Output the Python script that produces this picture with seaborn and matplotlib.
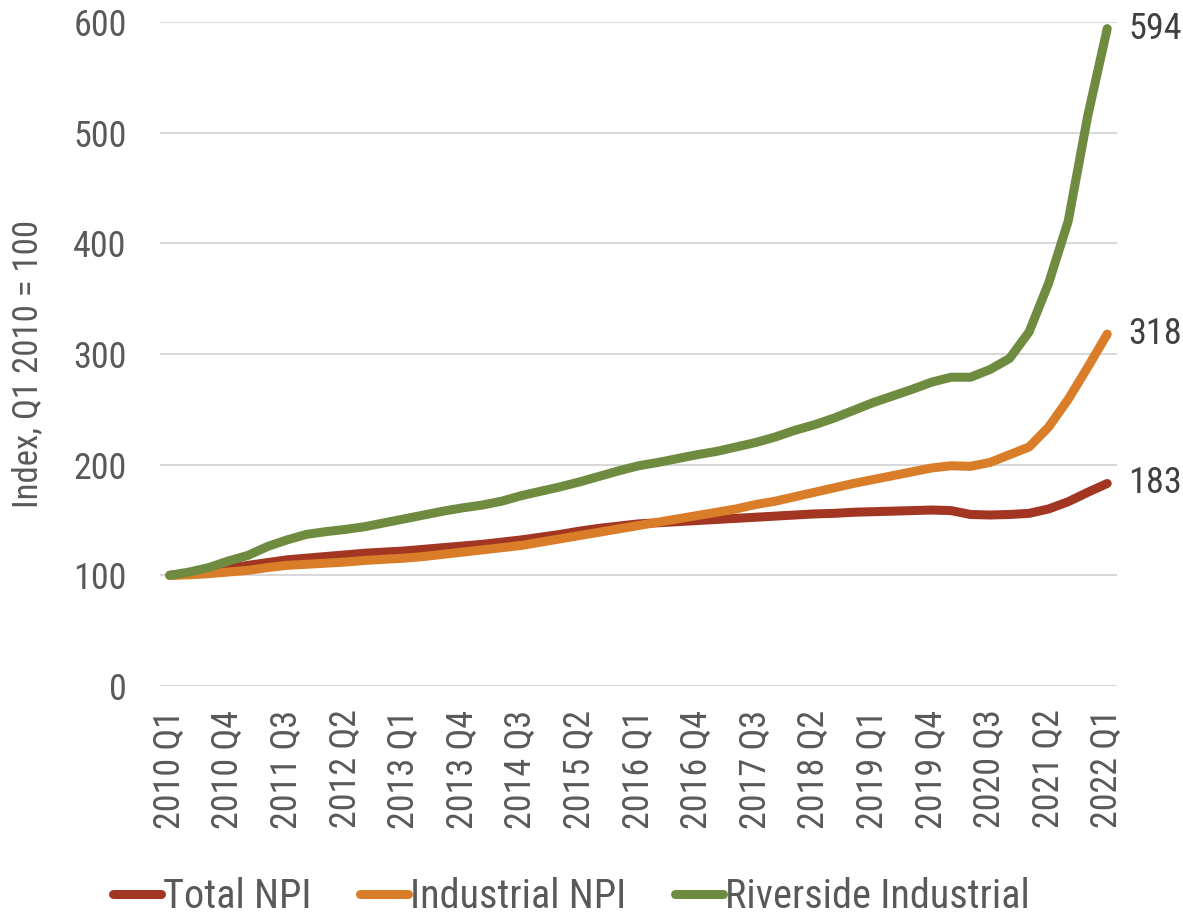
import numpy as np
import pandas as pd
import matplotlib
matplotlib.use("Agg")
import matplotlib.pyplot as plt
import seaborn as sns

# Quarterly index values, Q1 2010 = 100
years = list(range(2010, 2023))
quarters = [f"{y} Q{q}" for y in years for q in range(1, 5)][:49]

total_npi = [100, 101.5, 103.5, 106, 109, 111.5, 114, 115.5, 117, 118.5,
             120, 121, 122, 123.5, 125, 126.5, 128, 130, 132, 134.5,
             137, 140, 142.5, 144.5, 146.5, 147.5, 148.5, 149.5, 150.5, 151.5,
             152.5, 153.5, 154.5, 155.5, 156, 157, 157.5, 158, 158.5, 159,
             158.5, 155, 154.5, 155, 156, 160, 166.5, 175, 183]

industrial_npi = [100, 100.5, 101.5, 103, 104.5, 107, 109, 110, 111, 112,
                  113.5, 114.5, 115.5, 117, 119, 121, 123, 125, 127, 130,
                  133, 136, 139, 142, 145, 148, 151, 154, 157, 160,
                  164, 167, 171, 175, 179, 183, 186.5, 190, 193.5, 197,
                  199, 198.5, 202, 209, 216, 234, 259, 288, 318]

riverside_industrial = [100, 103, 107, 113, 118, 126, 132, 137, 139.5, 141.5,
                        144, 147.5, 151, 154.5, 158, 161, 163.5, 167, 172, 176,
                        180, 184.5, 189.5, 194.5, 199, 202, 205.5, 209, 212, 216,
                        220, 225, 231, 236, 242, 249, 256, 262, 268, 274.5,
                        279, 279, 286, 296, 320, 364, 420, 515, 594]

series_names = ["Total NPI", "Industrial NPI", "Riverside Industrial"]
series_values = [total_npi, industrial_npi, riverside_industrial]
series_colors = ["#A33623", "#D97D28", "#6F8B3F"]
end_labels = ["183", "318", "594"]

tick_step = 3
y_ticks = [0, 100, 200, 300, 400, 500, 600]

df = pd.concat(
    [pd.DataFrame({"pos": np.arange(len(quarters)), "quarter": quarters,
                   "value": vals, "series": name})
     for name, vals in zip(series_names, series_values)],
    ignore_index=True,
)

sns.set_theme(style="white")
plt.rcParams["font.family"] = ["Liberation Sans Narrow", "Arial Narrow",
                               "Roboto Condensed", "DejaVu Sans"]

text_grey = "#595959"
fig = plt.figure(figsize=(11.83, 9.19), dpi=100)
ax = fig.add_axes([160 / 1183, 1 - 686 / 919, 957 / 1183, 664 / 919])

sns.lineplot(data=df, x="pos", y="value", hue="series", hue_order=series_names,
             palette=series_colors, linewidth=6.5, ax=ax,
             solid_capstyle="round", solid_joinstyle="round")

ax.set_xlim(-0.5, len(quarters) - 0.5)
ax.set_ylim(0, 600)
ax.set_yticks(y_ticks)
ax.set_yticklabels([str(t) for t in y_ticks])
xt = list(range(0, len(quarters), tick_step))
ax.set_xticks(xt)
ax.set_xticklabels([quarters[i] for i in xt], rotation=90)

ax.grid(axis="y", color="#d9d9d9", linewidth=1.5)
ax.grid(axis="x", visible=False)
ax.set_axisbelow(True)
for s in ax.spines.values():
    s.set_visible(False)

ax.tick_params(axis="y", length=0, pad=24, labelsize=26, labelcolor=text_grey)
ax.tick_params(axis="x", length=0, pad=17, labelsize=26, labelcolor=text_grey)
ax.set_xlabel("")
ax.set_ylabel("Index, Q1 2010 = 100", fontsize=25, color=text_grey)
ax.yaxis.set_label_coords(-(160 - 44) / 957, 0.485)

# Values at the end of each series
last = len(quarters) - 1
for vals, lab in zip(series_values, end_labels):
    ax.annotate(lab, xy=(last, vals[-1]), xytext=(21, 0),
                textcoords="offset pixels", ha="left", va="center",
                fontsize=26, color="#404040", annotation_clip=False)

handles, labels = ax.get_legend_handles_labels()
ax.get_legend().remove()
fig.legend(handles, labels, loc="center", bbox_to_anchor=(0.483, 0.024),
           ncol=3, frameon=False, fontsize=29, labelcolor=text_grey,
           handlelength=1.2, handletextpad=0.05, columnspacing=1.2,
           borderaxespad=0)

fig.savefig("out.png", dpi=100)
